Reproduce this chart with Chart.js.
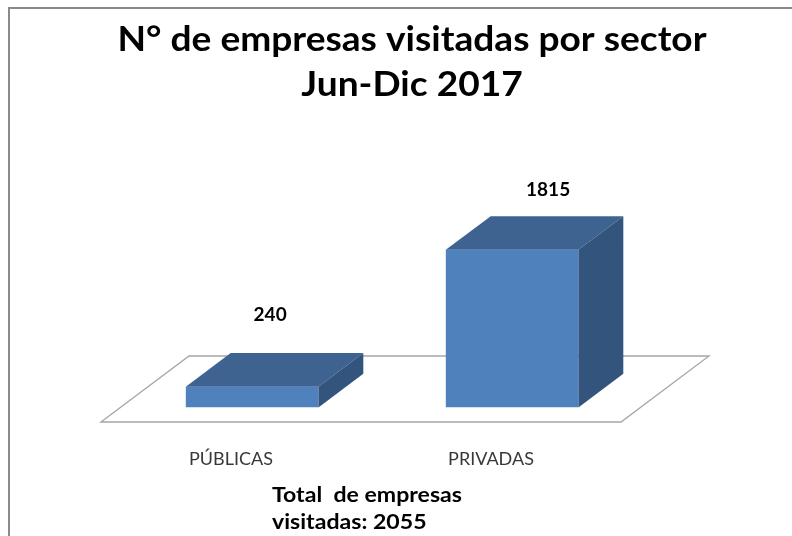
<!DOCTYPE html>
<html>
<head>
<meta charset="utf-8">
<script src="https://cdn.jsdelivr.net/npm/chart.js@4.4.1/dist/chart.umd.min.js"></script>
<style>
  html, body { margin: 0; padding: 0; background: #fff; }
  #wrap { position: relative; width: 792px; height: 536px; overflow: hidden; }
  #frame { position: absolute; left: 8px; top: 7px; right: -10px; bottom: -10px;
           border-left: 2px solid #8a8a8a; border-top: 2px solid #8a8a8a; pointer-events: none; }
  canvas { position: absolute; left: 0; top: 0; }
</style>
</head>
<body>
<div id="wrap">
  <canvas id="c" width="792" height="536"></canvas>
  <div id="frame"></div>
</div>
<script>
// ---- data ----
const categories = ["PÚBLICAS", "PRIVADAS"];
const values = [240, 1815];
const titleLines = ["N° de empresas visitadas por sector", "Jun-Dic 2017"];
const footerLines = ["Total  de empresas", "visitadas: 2055"];

// ---- 3D look / style ----
const FLOOR_DX = 88, FLOOR_DY = -66;      // floor depth
const BAR_SHIFT = 0.24;                   // bar front position inside floor depth
const BAR_DEPTH = 0.51;                   // bar depth relative to floor depth
const FRONT = '#4f81bd', TOP = '#3e6390', SIDE = '#33547c';
const LABEL_OFFSETS = [[20, -38], [38, -26]]; // value label offset from (front centre, back top)

function stretchText(ctx, s, x, y, sx) {
  ctx.save();
  ctx.translate(x, y);
  ctx.scale(sx, 1);
  ctx.fillText(s, 0, 0);
  ctx.restore();
}

const threeD = {
  id: 'threeD',
  beforeDatasetsDraw(chart) {
    const { ctx, chartArea: a } = chart;
    ctx.save();
    ctx.beginPath();
    ctx.moveTo(a.left, a.bottom);
    ctx.lineTo(a.left + FLOOR_DX, a.bottom + FLOOR_DY);
    ctx.lineTo(a.right + FLOOR_DX, a.bottom + FLOOR_DY);
    ctx.lineTo(a.right, a.bottom);
    ctx.closePath();
    ctx.fillStyle = '#ffffff';
    ctx.fill();
    ctx.lineWidth = 1.3;
    ctx.strokeStyle = '#a6a6a6';
    ctx.stroke();
    ctx.restore();
    ctx.save();
    ctx.translate(FLOOR_DX * BAR_SHIFT, FLOOR_DY * 0.22);
  },
  afterDatasetsDraw(chart) {
    const { ctx } = chart;
    const dx = FLOOR_DX * BAR_DEPTH, dy = FLOOR_DY * BAR_DEPTH;
    const meta = chart.getDatasetMeta(0);
    meta.data.forEach((bar, i) => {
      const p = bar.getProps(['x', 'y', 'base', 'width'], true);
      const l = p.x - p.width / 2, r = p.x + p.width / 2, t = p.y, b = p.base;
      ctx.beginPath();
      ctx.moveTo(l, t); ctx.lineTo(l + dx, t + dy); ctx.lineTo(r + dx, t + dy); ctx.lineTo(r, t);
      ctx.closePath(); ctx.fillStyle = TOP; ctx.fill();
      ctx.beginPath();
      ctx.moveTo(r, t); ctx.lineTo(r + dx, t + dy); ctx.lineTo(r + dx, b + dy); ctx.lineTo(r, b);
      ctx.closePath(); ctx.fillStyle = SIDE; ctx.fill();
      const off = LABEL_OFFSETS[i] || [dx / 2, -32];
      ctx.fillStyle = '#000';
      ctx.font = 'bold 19px Lato';
      ctx.textAlign = 'center';
      ctx.textBaseline = 'middle';
      ctx.fillText(String(values[i]), p.x + off[0] - 2, t + dy + off[1]);
    });
    ctx.restore();
  },
  afterDraw(chart) {
    const { ctx } = chart;
    ctx.save();
    ctx.fillStyle = '#000';
    ctx.textBaseline = 'middle';
    ctx.font = 'bold 35px Lato';
    ctx.textAlign = 'center';
    titleLines.forEach((s, i) => stretchText(ctx, s, 412, 40 + i * 45, 1.06));
    ctx.font = 'bold 21px Lato';
    ctx.textAlign = 'left';
    footerLines.forEach((s, i) => stretchText(ctx, s, 272, 495 + i * 27, 1.1));
    ctx.restore();
  }
};

new Chart(document.getElementById('c'), {
  type: 'bar',
  data: {
    labels: categories,
    datasets: [{
      data: values,
      backgroundColor: FRONT,
      borderWidth: 0,
      barPercentage: 0.51,
      categoryPercentage: 1
    }]
  },
  options: {
    responsive: false,
    devicePixelRatio: 1,
    animation: false,
    layout: { padding: { left: 101, right: 171, top: 118, bottom: 0 } },
    plugins: {
      legend: { display: false },
      tooltip: { enabled: false },
      title: { display: false }
    },
    scales: {
      x: {
        grid: { display: false },
        border: { display: false },
        ticks: { color: '#383838', font: { family: 'Lato', size: 18 }, padding: 18, maxRotation: 0 },
        afterFit(scale) { scale.height = 114; }
      },
      y: { display: false, min: 0, max: 3500 }
    }
  },
  plugins: [threeD]
});
</script>
</body>
</html>
